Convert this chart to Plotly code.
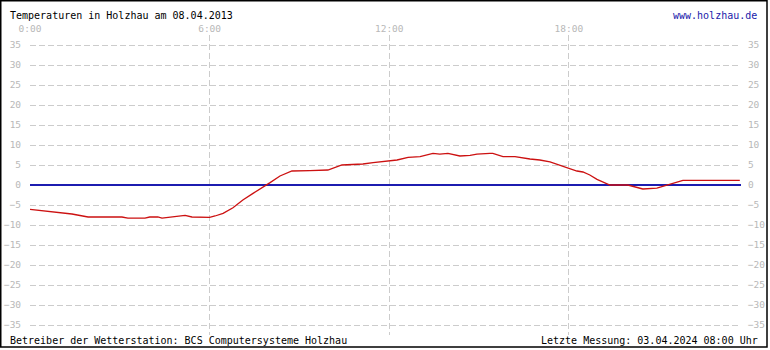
import plotly.graph_objects as go

# --- data (hours since midnight, temperature in °C) ---
hours = [0.0, 0.67, 0.93, 1.4, 1.94, 3.07, 3.27, 3.84, 4.0, 4.27, 4.41, 4.84, 5.18, 5.41,
         5.95, 6.0, 6.18, 6.45, 6.78, 7.11, 7.45, 7.78, 8.02, 8.35, 8.75, 9.35, 9.95,
         10.42, 11.12, 11.46, 11.92, 12.26, 12.63, 13.03, 13.46, 13.69, 13.96, 14.36,
         14.7, 14.93, 15.36, 15.46, 15.8, 16.2, 16.7, 17.03, 17.37, 17.7, 18.04, 18.27,
         18.47, 18.7, 18.94, 19.37, 19.97, 20.2, 20.47, 20.94, 21.28, 21.61, 21.81, 23.71]
temps = [-6.1, -6.7, -6.9, -7.25, -8.0, -8.0, -8.3, -8.3, -8.0, -8.0, -8.3, -7.9, -7.6, -8.0,
         -8.0, -8.1, -7.75, -7.1, -5.7, -3.75, -2.1, -0.6, 0.6, 2.25, 3.5, 3.6, 3.75,
         5.0, 5.25, 5.6, 5.9, 6.25, 6.9, 7.1, 7.9, 7.7, 7.9, 7.25,
         7.4, 7.7, 7.9, 7.9, 7.1, 7.1, 6.5, 6.25, 5.8, 5.0, 4.0, 3.5,
         3.25, 2.5, 1.4, 0.0, 0.0, -0.4, -1.0, -0.8, 0.0, 0.75, 1.15, 1.15]

x_tick_vals = [0, 6, 12, 18]
x_tick_text = ["0:00", "6:00", "12:00", "18:00"]
y_tick_vals = list(range(-35, 40, 5))

title_text = "Temperaturen in Holzhau am 08.04.2013"
site_text = "www.holzhau.de"
operator_text = "Betreiber der Wetterstation: BCS Computersysteme Holzhau"
last_text = "Letzte Messung: 03.04.2024 08:00 Uhr"

# --- layout geometry ---
W, H = 770, 350
L, R, T, B = 30, 741, 35, 335
pw, ph = R - L, B - T

def px(x):
    return (x - L) / pw

def py(y):
    return (B - y) / ph

MONO = "DejaVu Sans Mono"
GRID = "#cccccc"
TICK = "#b8b8b8"

fig = go.Figure()
fig.add_trace(go.Scatter(x=hours, y=temps, mode="lines",
                         line=dict(color="#cc1111", width=1.3),
                         hoverinfo="skip", showlegend=False))
# invisible trace for the right-hand axis
fig.add_trace(go.Scatter(x=[0], y=[0], yaxis="y2", mode="markers",
                         marker=dict(opacity=0), hoverinfo="skip", showlegend=False))

fig.update_layout(
    width=W, height=H,
    margin=dict(l=L, r=W - R, t=T, b=H - B, pad=0, autoexpand=False),
    paper_bgcolor="white", plot_bgcolor="white",
    showlegend=False,
    xaxis=dict(range=[0, 23.75], side="top", tickvals=x_tick_vals, ticktext=x_tick_text,
               showgrid=True, gridcolor=GRID, griddash="6px,3px", gridwidth=1,
               zeroline=False, showline=False, ticks="", ticklen=0, automargin=False,
               layer="below traces",
               tickfont=dict(family=MONO, size=9.5, color=TICK), fixedrange=True),
    yaxis=dict(range=[-37.5, 37.5], tickvals=y_tick_vals, showgrid=True, gridcolor=GRID,
               griddash="6px,3px", gridwidth=1, zeroline=True, zerolinecolor="#1c1cb0",
               zerolinewidth=1.5, showline=False, ticks="outside", ticklen=6,
               tickcolor="rgba(0,0,0,0)", automargin=False, layer="below traces",
               tickfont=dict(family=MONO, size=9.5, color=TICK), fixedrange=True),
    yaxis2=dict(range=[-37.5, 37.5], tickvals=y_tick_vals, overlaying="y", side="right",
                showgrid=False, zeroline=False, showline=False, ticks="outside", ticklen=4,
                tickcolor="rgba(0,0,0,0)", automargin=False,
                tickfont=dict(family=MONO, size=9.5, color=TICK), fixedrange=True),
)

# frame around whole picture
fig.add_shape(type="rect", xref="paper", yref="paper",
              x0=px(0.75), x1=px(767), y0=py(347), y1=py(0.75),
              line=dict(color="black", width=1.5), fillcolor="rgba(0,0,0,0)", layer="above")

def note(text, x, y, anchor, color="black"):
    fig.add_annotation(text=text, xref="paper", yref="paper", x=px(x), y=py(y),
                       xanchor=anchor, yanchor="middle", showarrow=False,
                       font=dict(family=MONO, size=10, color=color))

note(title_text, 8, 15, "left")
note(site_text, 759, 15, "right", "#1a1aaa")
note(operator_text, 8, 340, "left")
note(last_text, 760, 340, "right")

fig.write_html("out.html", config={"displayModeBar": False},
               post_script="document.body.style.margin='0';document.body.style.padding='0';")
